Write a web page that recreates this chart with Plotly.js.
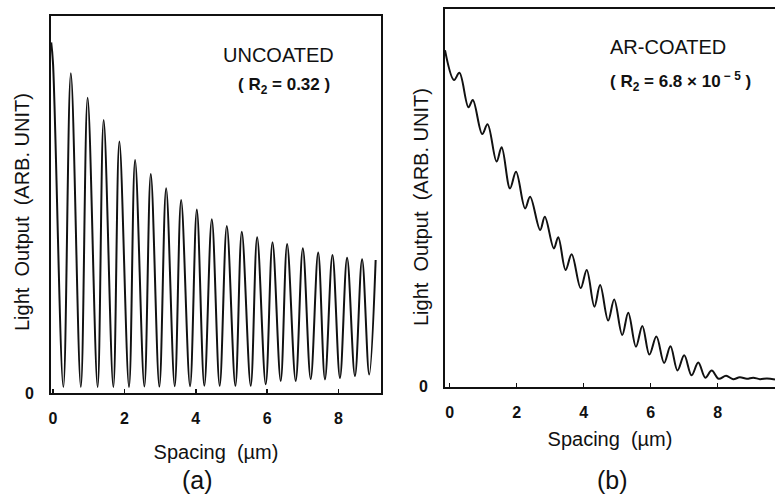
<!DOCTYPE html>
<html>
<head>
<meta charset="utf-8">
<script src="https://cdn.plot.ly/plotly-3.0.1.min.js"></script>
<style>html,body{margin:0;padding:0;background:#fff;overflow:hidden}</style>
</head>
<body>
<div id="chart" style="width:775px;height:495px"></div>
<script>
// Panel (a): uncoated — spacing (µm) vs light output (arb. unit), peaks and troughs
var uncoatedX = [-0.05, 0.0, 0.29, 0.50, 0.78, 0.97, 1.25, 1.42, 1.69, 1.86, 2.13, 2.30, 2.56, 2.74, 2.98, 3.17, 3.41, 3.59, 3.84, 4.03, 4.24, 4.45, 4.67, 4.87, 5.11, 5.29, 5.54, 5.72, 5.96, 6.15, 6.38, 6.56, 6.80, 7.00, 7.22, 7.43, 7.62, 7.83, 8.04, 8.24, 8.46, 8.66, 8.86, 9.04];
var uncoatedY = [0.93, 0.875, 0.016, 0.848, 0.016, 0.783, 0.016, 0.724, 0.016, 0.667, 0.016, 0.618, 0.017, 0.581, 0.017, 0.543, 0.018, 0.512, 0.018, 0.487, 0.019, 0.461, 0.019, 0.443, 0.019, 0.428, 0.019, 0.413, 0.023, 0.400, 0.032, 0.395, 0.032, 0.384, 0.037, 0.373, 0.036, 0.366, 0.040, 0.359, 0.045, 0.355, 0.049, 0.353];

// Panel (b): AR-coated
var coatedX = [-0.14, 0.13, 0.29, 0.56, 0.69, 0.97, 1.13, 1.40, 1.55, 1.80, 1.98, 2.25, 2.40, 2.70, 2.84, 3.11, 3.24, 3.46, 3.64, 3.91, 4.09, 4.32, 4.49, 4.73, 4.91, 5.15, 5.33, 5.56, 5.75, 5.96, 6.17, 6.40, 6.59, 6.80, 7.00, 7.22, 7.42, 7.63, 7.82, 8.03, 8.25, 8.46, 8.66, 8.87, 9.06, 9.26, 9.47, 9.71];
var coatedY = [0.891, 0.812, 0.831, 0.740, 0.759, 0.669, 0.695, 0.596, 0.634, 0.525, 0.569, 0.472, 0.503, 0.415, 0.450, 0.366, 0.396, 0.309, 0.351, 0.261, 0.309, 0.212, 0.269, 0.175, 0.231, 0.137, 0.196, 0.106, 0.161, 0.085, 0.133, 0.063, 0.107, 0.043, 0.083, 0.030, 0.064, 0.024, 0.043, 0.021, 0.029, 0.020, 0.025, 0.021, 0.024, 0.020, 0.022, 0.019];

// Tick labels
var xTickVals = [0, 2, 4, 6, 8];
var xTickText = ['0', '2', '4', '6', '8'];
var yTickVals = [0];
var yTickText = ['0'];

var ink = '#111';
var fam = '"Liberation Sans", Arial, sans-serif';
var tickFont = {family: fam, size: 16, color: ink, weight: 'bold'};
var titleFont = {family: fam, size: 20, color: ink};
var yTitle = 'Light  Output  (ARB. UNIT)';

var traces = [
  {x: uncoatedX, y: uncoatedY, xaxis: 'x', yaxis: 'y', type: 'scatter', mode: 'lines',
   line: {color: ink, width: 2, shape: 'spline', smoothing: 1}, hoverinfo: 'skip'},
  {x: coatedX, y: coatedY, xaxis: 'x2', yaxis: 'y2', type: 'scatter', mode: 'lines',
   line: {color: ink, width: 2, shape: 'spline', smoothing: 1}, hoverinfo: 'skip'}
];

function xax(domain, range, anchor, standoff) {
  return {domain: domain, range: range, anchor: anchor, showline: true, mirror: true,
    linecolor: ink, linewidth: 1.8, ticks: 'inside', ticklen: 4, tickwidth: 1.5, tickcolor: ink,
    tickvals: xTickVals, ticktext: xTickText, showgrid: false, zeroline: false,
    tickfont: tickFont, ticklabelstandoff: 10,
    title: {text: 'Spacing  (µm)', font: titleFont, standoff: standoff}};
}
function yax(domain, anchor, mirror) {
  return {domain: domain, range: [0, 1], anchor: anchor, showline: true, mirror: mirror,
    linecolor: ink, linewidth: 1.8, ticks: '', tickvals: yTickVals, ticktext: yTickText,
    showgrid: false, zeroline: false, tickfont: tickFont, ticklabelstandoff: 12};
}

var layout = {
  width: 775, height: 495,
  margin: {l: 0, r: 0, t: 0, b: 0},
  paper_bgcolor: '#fff', plot_bgcolor: '#fff',
  showlegend: false,
  xaxis: xax([51/775, 381/775], [-0.056, 9.19], 'y', 19),
  yaxis: yax([1 - 393/495, 1 - 16/495], 'x', true),
  xaxis2: xax([445/775, 1], [-0.14, 9.71], 'y2', 12),
  yaxis2: yax([1 - 386.7/495, 1 - 9/495], 'x2', false),
  annotations: [
    {text: yTitle, textangle: -90, xref: 'paper', yref: 'paper', x: 22/775, y: 1 - 212/495,
     showarrow: false, xanchor: 'center', yanchor: 'middle', font: titleFont},
    {text: yTitle, textangle: -90, xref: 'paper', yref: 'paper', x: 421/775, y: 1 - 207/495,
     showarrow: false, xanchor: 'center', yanchor: 'middle', font: titleFont},
    {text: 'UNCOATED', xref: 'paper', yref: 'paper', x: 278/775, y: 1 - 55/495,
     showarrow: false, xanchor: 'center', yanchor: 'middle', font: {family: fam, size: 20, color: ink}},
    {text: '( R<sub>2</sub> = 0.32 )', xref: 'paper', yref: 'paper', x: 284/775, y: 1 - 86/495,
     showarrow: false, xanchor: 'center', yanchor: 'middle', font: {family: fam, size: 17, color: ink, weight: 'bold'}},
    {text: 'AR-COATED', xref: 'paper', yref: 'paper', x: 668/775, y: 1 - 47/495,
     showarrow: false, xanchor: 'center', yanchor: 'middle', font: {family: fam, size: 20, color: ink}},
    {text: '( R<sub>2</sub> = 6.8 × 10<sup> − 5</sup> )', xref: 'paper', yref: 'paper', x: 680/775, y: 1 - 82/495,
     showarrow: false, xanchor: 'center', yanchor: 'middle', font: {family: fam, size: 17, color: ink, weight: 'bold'}},
    {text: '(a)', xref: 'paper', yref: 'paper', x: 197/775, y: 1 - 480/495,
     showarrow: false, xanchor: 'center', yanchor: 'middle', font: {family: fam, size: 25, color: ink}},
    {text: '(b)', xref: 'paper', yref: 'paper', x: 612/775, y: 1 - 480/495,
     showarrow: false, xanchor: 'center', yanchor: 'middle', font: {family: fam, size: 25, color: ink}}
  ]
};

Plotly.newPlot('chart', traces, layout, {staticPlot: true, displayModeBar: false});
</script>
</body>
</html>
